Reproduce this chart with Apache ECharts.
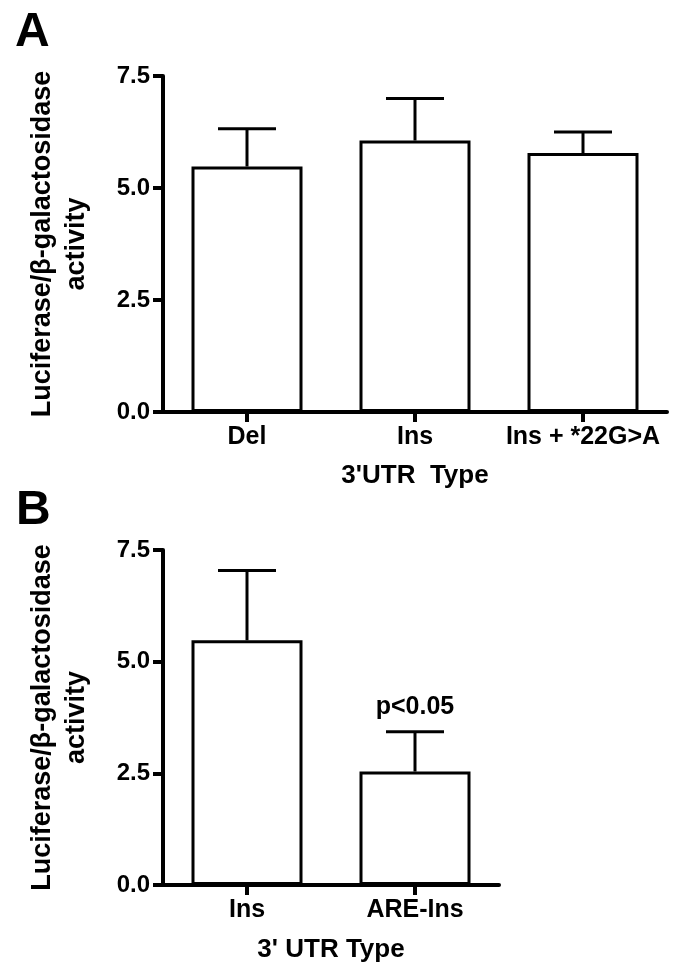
<!DOCTYPE html>
<html>
<head>
<meta charset="utf-8">
<script src="https://cdn.jsdelivr.net/npm/echarts@6/dist/echarts.min.js"></script>
<style>
    html, body { margin: 0; padding: 0; background: #fff; }
    #chart { width: 685px; height: 972px; }
</style>
</head>
<body>
<div id="chart"></div>
<script>
    // panel A
    var catsA = ['Del', 'Ins', 'Ins + *22G>A'];
    var meanA = [5.48, 6.06, 5.78];
    var semA = [0.84, 0.94, 0.47];
    // panel B
    var catsB = ['Ins', 'ARE-Ins'];
    var meanB = [5.48, 2.54];
    var semB = [1.56, 0.89];
    var noteB = ['', 'p<0.05'];

    var yMax = 7.5;
    var yStep = 2.5;

    var FONT = '"Liberation Sans", Arial, sans-serif';

    function errData(means, sems) {
        var out = [];
        means.forEach(function (m, i) {
            out.push([i, m, sems[i]]);
        });
        return out;
    }

    function errorBars(notes) {
        return function (params, api) {
            var x = api.value(0);
            var mean = api.value(1);
            var err = api.value(2);
            var top = api.coord([x, mean]);
            var cap = api.coord([x, mean + err]);
            var st = { stroke: '#000', lineWidth: 3 };
            var kids = [
                { type: 'line', shape: { x1: top[0], y1: top[1], x2: cap[0], y2: cap[1] }, style: st },
                { type: 'line', shape: { x1: cap[0] - 29, y1: cap[1], x2: cap[0] + 29, y2: cap[1] }, style: st }
            ];
            if (notes && notes[params.dataIndex]) {
                kids.push({
                    type: 'text',
                    style: {
                        x: cap[0], y: cap[1] - 12,
                        text: notes[params.dataIndex],
                        fill: '#000',
                        font: 'bold 25px ' + FONT,
                        textAlign: 'center',
                        textVerticalAlign: 'bottom'
                    }
                });
            }
            return { type: 'group', children: kids };
        };
    }

    function xAxisOf(grid, cats, name, gap) {
        return {
            type: 'category',
            gridIndex: grid,
            data: cats,
            name: name,
            nameLocation: 'middle',
            nameGap: gap,
            nameTextStyle: { color: '#000', fontSize: 26, fontWeight: 'bold', fontFamily: FONT },
            axisLine: { show: true, lineStyle: { color: '#000', width: 4 } },
            axisTick: { show: true, alignWithLabel: true, length: 10, lineStyle: { color: '#000', width: 4 } },
            axisLabel: {
                color: '#000', fontSize: 25, fontWeight: 'bold', fontFamily: FONT, margin: 13,
                interval: 0, hideOverlap: false
            },
            splitLine: { show: false }
        };
    }

    function yAxisOf(grid) {
        return {
            type: 'value',
            gridIndex: grid,
            min: 0,
            max: yMax,
            interval: yStep,
            name: 'Luciferase/β-galactosidase\nactivity',
            nameLocation: 'middle',
            nameRotate: 90,
            nameGap: 69,
            nameTextStyle: { color: '#000', fontSize: 27, fontWeight: 'bold', fontFamily: FONT, lineHeight: 34, align: 'center' },
            axisLine: { show: true, lineStyle: { color: '#000', width: 4 } },
            axisTick: { show: true, length: 10, lineStyle: { color: '#000', width: 4 } },
            axisLabel: {
                color: '#000', fontSize: 24, fontWeight: 'bold', fontFamily: FONT, margin: 13,
                formatter: function (v) { return v.toFixed(1); }
            },
            splitLine: { show: false }
        };
    }

    var barStyle = { color: '#fff', borderColor: '#000', borderWidth: 3 };

    var chart = echarts.init(document.getElementById('chart'));
    chart.setOption({
        animation: false,
        backgroundColor: '#fff',
        graphic: [
            { type: 'text', left: 15, top: 9, style: { text: 'A', fill: '#000', font: 'bold 48px ' + FONT } },
            { type: 'text', left: 16, top: 487, style: { text: 'B', fill: '#000', font: 'bold 48px ' + FONT } }
        ],
        grid: [
            { left: 163, top: 76, width: 504, height: 336 },
            { left: 163, top: 550, width: 336, height: 335 }
        ],
        xAxis: [
            xAxisOf(0, catsA, "3'UTR  Type", 51),
            xAxisOf(1, catsB, "3' UTR Type", 52)
        ],
        yAxis: [yAxisOf(0), yAxisOf(1)],
        series: [
            { type: 'bar', xAxisIndex: 0, yAxisIndex: 0, data: meanA, barWidth: 111, itemStyle: barStyle },
            { type: 'custom', xAxisIndex: 0, yAxisIndex: 0, data: errData(meanA, semA), renderItem: errorBars(null), z: 3 },
            { type: 'bar', xAxisIndex: 1, yAxisIndex: 1, data: meanB, barWidth: 111, itemStyle: barStyle },
            { type: 'custom', xAxisIndex: 1, yAxisIndex: 1, data: errData(meanB, semB), renderItem: errorBars(noteB), z: 3 }
        ]
    });
</script>
</body>
</html>
